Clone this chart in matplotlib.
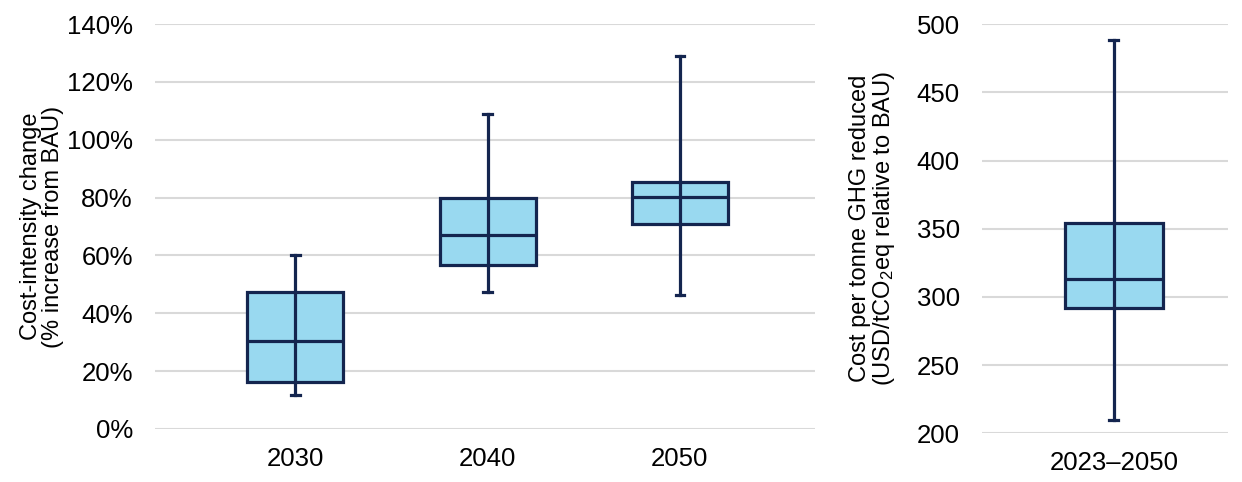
import matplotlib
matplotlib.use("Agg")
import matplotlib.pyplot as plt
from matplotlib.ticker import PercentFormatter

plt.rcParams['font.family'] = ['Liberation Sans', 'DejaVu Sans']
plt.rcParams['mathtext.fontset'] = 'custom'
plt.rcParams['mathtext.rm'] = 'Liberation Sans'

# left panel: cost-intensity change, % increase from BAU
years = ['2030', '2040', '2050']
whis_lo = [11.8, 47.5, 46.4]
q1 = [16.4, 56.8, 70.8]
med = [30.4, 67.0, 80.1]
q3 = [47.2, 79.8, 85.4]
whis_hi = [60.0, 109.0, 129.0]

# right panel: cost per tonne GHG reduced
period = ['2023–2050']
r_whis_lo = [210]
r_q1 = [292]
r_med = [313]
r_q3 = [354]
r_whis_hi = [488]

fill = '#99d9f0'
edge = '#14254f'
grid = '#d9d9d9'


def make_stats(labels, lo, a, m, b, hi):
    stats = []
    for i in range(len(labels)):
        stats.append({'label': labels[i], 'whislo': lo[i], 'q1': a[i], 'med': m[i],
                      'q3': b[i], 'whishi': hi[i], 'fliers': []})
    return stats


def draw_box(ax, stats):
    lw = 2.3
    ax.bxp(stats, positions=range(len(stats)), widths=0.5, patch_artist=True,
           showfliers=False, capwidths=0.045,
           boxprops=dict(facecolor=fill, edgecolor=edge, linewidth=lw),
           medianprops=dict(color=edge, linewidth=lw),
           whiskerprops=dict(color=edge, linewidth=lw),
           capprops=dict(color=edge, linewidth=lw))
    # line through the box, like the original
    for i, s in enumerate(stats):
        ax.plot([i, i], [s['q1'], s['q3']], color=edge, lw=lw, zorder=4)
    for sp in ax.spines.values():
        sp.set_visible(False)
    ax.yaxis.grid(True, color=grid, lw=1.5)
    ax.set_axisbelow(True)
    ax.tick_params(axis='both', length=0, labelsize=18.5, colors='black')
    ax.tick_params(axis='y', pad=16)
    ax.tick_params(axis='x', pad=13)


fig = plt.figure(figsize=(12.42, 4.82), dpi=100)

ax1 = fig.add_axes([0.1248, 0.110, 0.531, 0.840])
draw_box(ax1, make_stats(years, whis_lo, q1, med, q3, whis_hi))
ax1.set_xlim(-0.73, 2.70)
ax1.set_ylim(0, 140)
ax1.set_yticks(range(0, 141, 20))
ax1.yaxis.set_major_formatter(PercentFormatter(decimals=0))
ax1.set_ylabel('Cost-intensity change\n(% increase from BAU)', fontsize=17,
               linespacing=1.0, labelpad=2)

ax2 = fig.add_axes([0.7907, 0.101, 0.198, 0.849])
draw_box(ax2, make_stats(period, r_whis_lo, r_q1, r_med, r_q3, r_whis_hi))
ax2.set_xlim(-0.67, 0.58)
ax2.set_ylim(200, 500)
ax2.set_yticks(range(200, 501, 50))
ax2.set_ylabel('Cost per tonne GHG reduced\n(USD/tCO$\\mathregular{_2}$eq relative to BAU)',
               fontsize=17, linespacing=1.0, labelpad=14)

fig.savefig('out.png', dpi=100)
